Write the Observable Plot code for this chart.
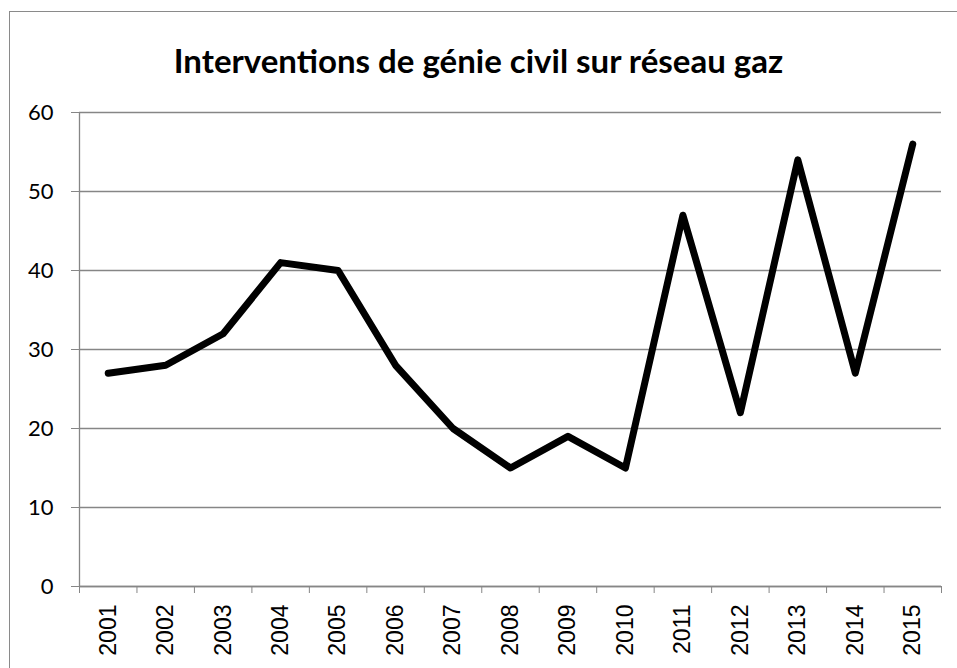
<!DOCTYPE html>
<html>
<head>
<meta charset="utf-8">
<script src="https://cdn.jsdelivr.net/npm/d3@7"></script>
<script src="https://cdn.jsdelivr.net/npm/@observablehq/plot@0.6"></script>
<style>
  html, body { margin: 0; padding: 0; background: #fff; }
  #wrap { position: relative; width: 957px; height: 668px; overflow: hidden; }
  #frame { position: absolute; left: 9px; top: 11px; width: 980px; height: 700px; border: 1.5px solid #8a8a8a; box-sizing: border-box; pointer-events: none; }
  #title { height: 90px; box-sizing: border-box; padding-top: 41px; line-height: 38px; text-align: center;
           font-family: Lato, "Open Sans", sans-serif; font-weight: bold; font-size: 33px; color: #000; }
  #chart svg { display: block; }
  #chart g[aria-label="y-axis tick label"] { font-family: Lato, sans-serif; font-size: 22px; }
  #chart g[aria-label="x-axis tick label"] { font-family: "Liberation Sans", Arial, sans-serif; font-size: 23px; }
</style>
</head>
<body>
<div id="wrap">
  <div id="title">Interventions de génie civil sur réseau gaz</div>
  <div id="chart"></div>
  <div id="frame"></div>
</div>
<script>
const years = [2001, 2002, 2003, 2004, 2005, 2006, 2007, 2008, 2009, 2010, 2011, 2012, 2013, 2014, 2015];
const values = [27, 28, 32, 41, 40, 28, 20, 15, 19, 15, 47, 22, 54, 27, 56];
const yTicks = [0, 10, 20, 30, 40, 50, 60];

const data = years.map((year, i) => ({year, value: values[i]}));
const boundaries = [...years.map(y => y - 0.5), years[years.length - 1] + 0.5];
const gray = "#868686";

const chart = Plot.plot({
  width: 957,
  height: 578,
  marginTop: 22,
  marginBottom: 82,
  marginLeft: 79,
  marginRight: 16,
  x: {domain: [boundaries[0], boundaries[boundaries.length - 1]]},
  y: {domain: [0, 60]},
  style: {fontFamily: "DejaVu Sans", fontSize: "20px", color: "#000", background: "transparent"},
  marks: [
    Plot.gridY(yTicks, {stroke: gray, strokeOpacity: 1, strokeWidth: 1.3}),
    Plot.ruleX([boundaries[0]], {stroke: gray, strokeWidth: 1.3}),
    Plot.ruleY([0], {stroke: gray, strokeWidth: 1.3}),
    Plot.axisY(yTicks, {tickSize: 8, tickPadding: 18, stroke: gray, fill: "#000", label: null}),
    Plot.axisX(boundaries, {tickSize: 7, tickFormat: () => "", stroke: gray, label: null}),
    Plot.axisX(years, {tickSize: 0, tickRotate: -90, tickPadding: 18, tickFormat: d => String(d), fill: "#000", label: null}),
    Plot.line(data, {x: "year", y: "value", stroke: "#000", strokeWidth: 7, strokeLinejoin: "round", strokeLinecap: "round"})
  ]
});
document.getElementById("chart").appendChild(chart);
</script>
</body>
</html>
